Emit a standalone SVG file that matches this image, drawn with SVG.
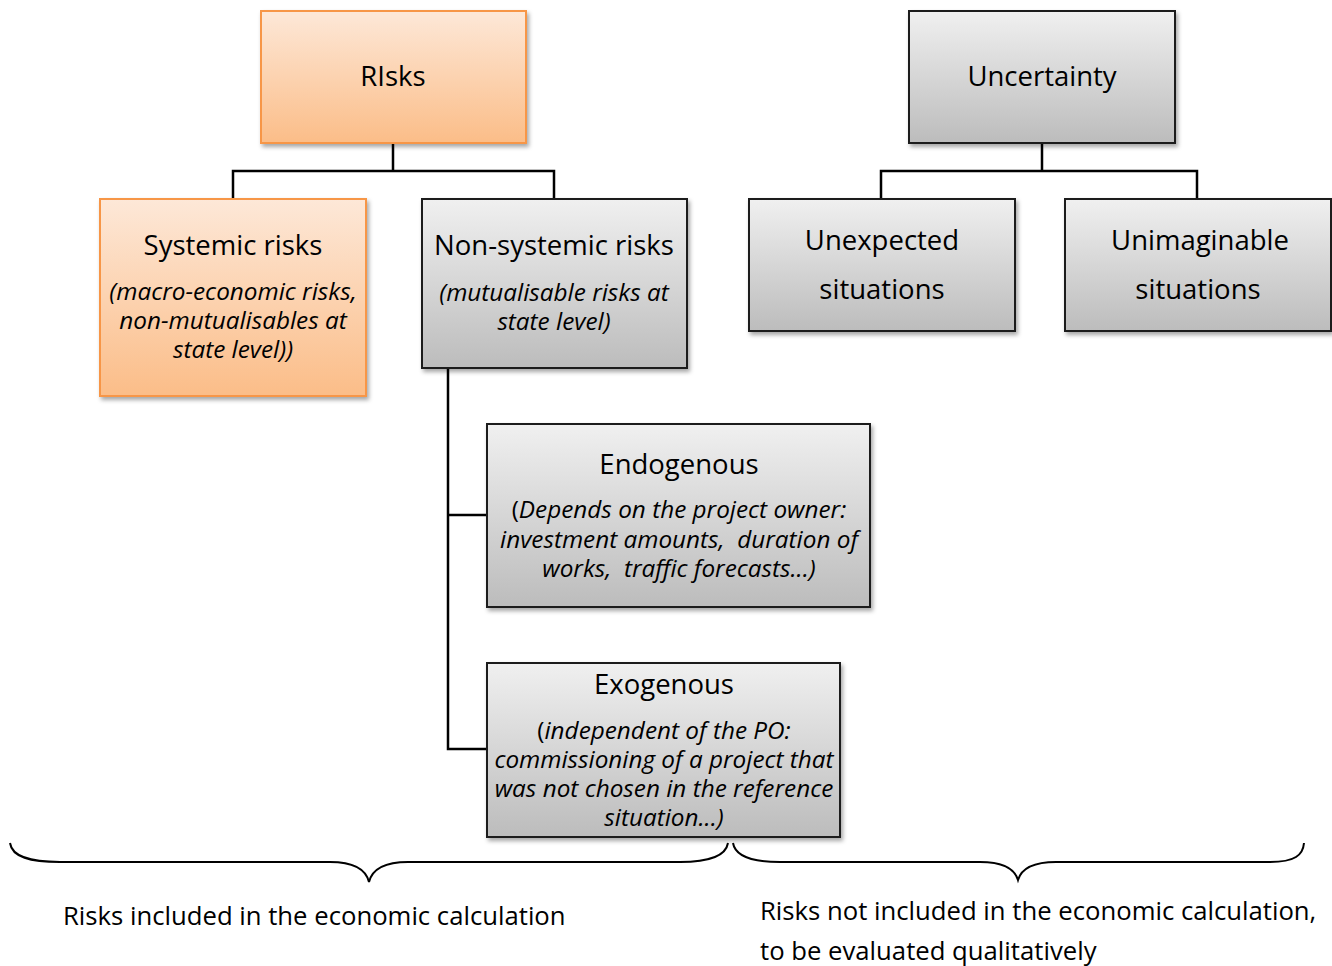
<svg xmlns="http://www.w3.org/2000/svg" width="1332" height="966" viewBox="0 0 1332 966">
<defs>
<linearGradient id="gOr" x1="0" y1="0" x2="0" y2="1"><stop offset="0" stop-color="#fde8d8"/><stop offset="1" stop-color="#fbbd88"/></linearGradient>
<linearGradient id="gGr" x1="0" y1="0" x2="0" y2="1"><stop offset="0" stop-color="#f0f0f0"/><stop offset="1" stop-color="#bcbcbc"/></linearGradient>
<filter id="sh" x="-5%" y="-5%" width="115%" height="120%"><feDropShadow dx="2" dy="3" stdDeviation="2" flood-color="#000" flood-opacity="0.35"/></filter>
</defs>
<style>
.or{fill:url(#gOr);stroke:#f79646;stroke-width:2;filter:url(#sh)}
.gr{fill:url(#gGr);stroke:#1a1a1a;stroke-width:2;filter:url(#sh)}
text{font-family:"Open Sans","Liberation Sans",sans-serif;fill:#000;text-anchor:middle;white-space:pre}
.t{font-size:27.5px}
.s{font-size:24.3px;font-style:italic}
.c{fill:none;stroke:#000;stroke-width:2.5}
.b{fill:none;stroke:#000;stroke-width:2}
.l{font-size:25.7px;text-anchor:start}
</style>
<g id="connectors">
<path class="c" d="M393,143V171M233,199V171H554V199"/>
<path class="c" d="M1042,143V171M881,199V171H1197V199"/>
<path class="c" d="M448,368V749H487M448,515H487"/>
</g>
<g id="risks"><rect class="or" x="261" y="11" width="265" height="132"/><text class="t" x="393" y="86">RIsks</text></g>
<g id="uncertainty"><rect class="gr" x="909" y="11" width="266" height="132"/><text class="t" x="1042" y="86">Uncertainty</text></g>
<g id="systemic"><rect class="or" x="100" y="199" width="266" height="197"/><text class="t" x="233" y="255">Systemic risks</text>
<text class="s" x="233" y="300">(macro-economic risks,</text><text class="s" x="233" y="329">non-mutualisables at</text><text class="s" x="233" y="358">state level))</text></g>
<g id="nonsystemic"><rect class="gr" x="422" y="199" width="265" height="169"/><text class="t" x="554" y="255">Non-systemic risks</text>
<text class="s" x="554" y="301">(mutualisable risks at</text><text class="s" x="554" y="330">state level)</text></g>
<g id="unexpected"><rect class="gr" x="749" y="199" width="266" height="132"/><text class="t" x="882" y="250">Unexpected</text><text class="t" x="882" y="299">situations</text></g>
<g id="unimaginable"><rect class="gr" x="1065" y="199" width="266" height="132"/><text class="t" x="1200" y="250">Unimaginable</text><text class="t" x="1198" y="299">situations</text></g>
<g id="endogenous"><rect class="gr" x="487" y="424" width="383" height="183"/><text class="t" x="679" y="474">Endogenous</text>
<text class="s" x="679" y="518"><tspan font-style="normal">(</tspan>Depends on the project owner:</text><text class="s" x="679" y="548">investment amounts,  duration of</text><text class="s" x="679" y="577">works,  traffic forecasts...)</text></g>
<g id="exogenous"><rect class="gr" x="487" y="663" width="353" height="174"/><text class="t" x="664" y="694">Exogenous</text>
<text class="s" x="664" y="739"><tspan font-style="normal">(</tspan>independent of the PO:</text><text class="s" x="664" y="768">commissioning of a project that</text><text class="s" x="664" y="797">was not chosen in the reference</text><text class="s" x="664" y="826">situation...)</text></g>
<g id="braces">
<path class="b" d="M10,843C12,857 30,862 60,862H330C355,862 366,870 369,882C372,870 383,862 408,862H680C710,862 726,855 728,843"/>
<path class="b" d="M733,843C735,855 750,862 780,862H980C1005,862 1015,870 1018,880C1021,870 1031,862 1056,862H1270C1295,862 1303,855 1304,843"/>
</g>
<g id="labels">
<text class="l" x="63" y="925">Risks included in the economic calculation</text>
<text class="l" x="760" y="920">Risks not included in the economic calculation,</text>
<text class="l" x="760" y="960">to be evaluated qualitatively</text>
</g>
</svg>
